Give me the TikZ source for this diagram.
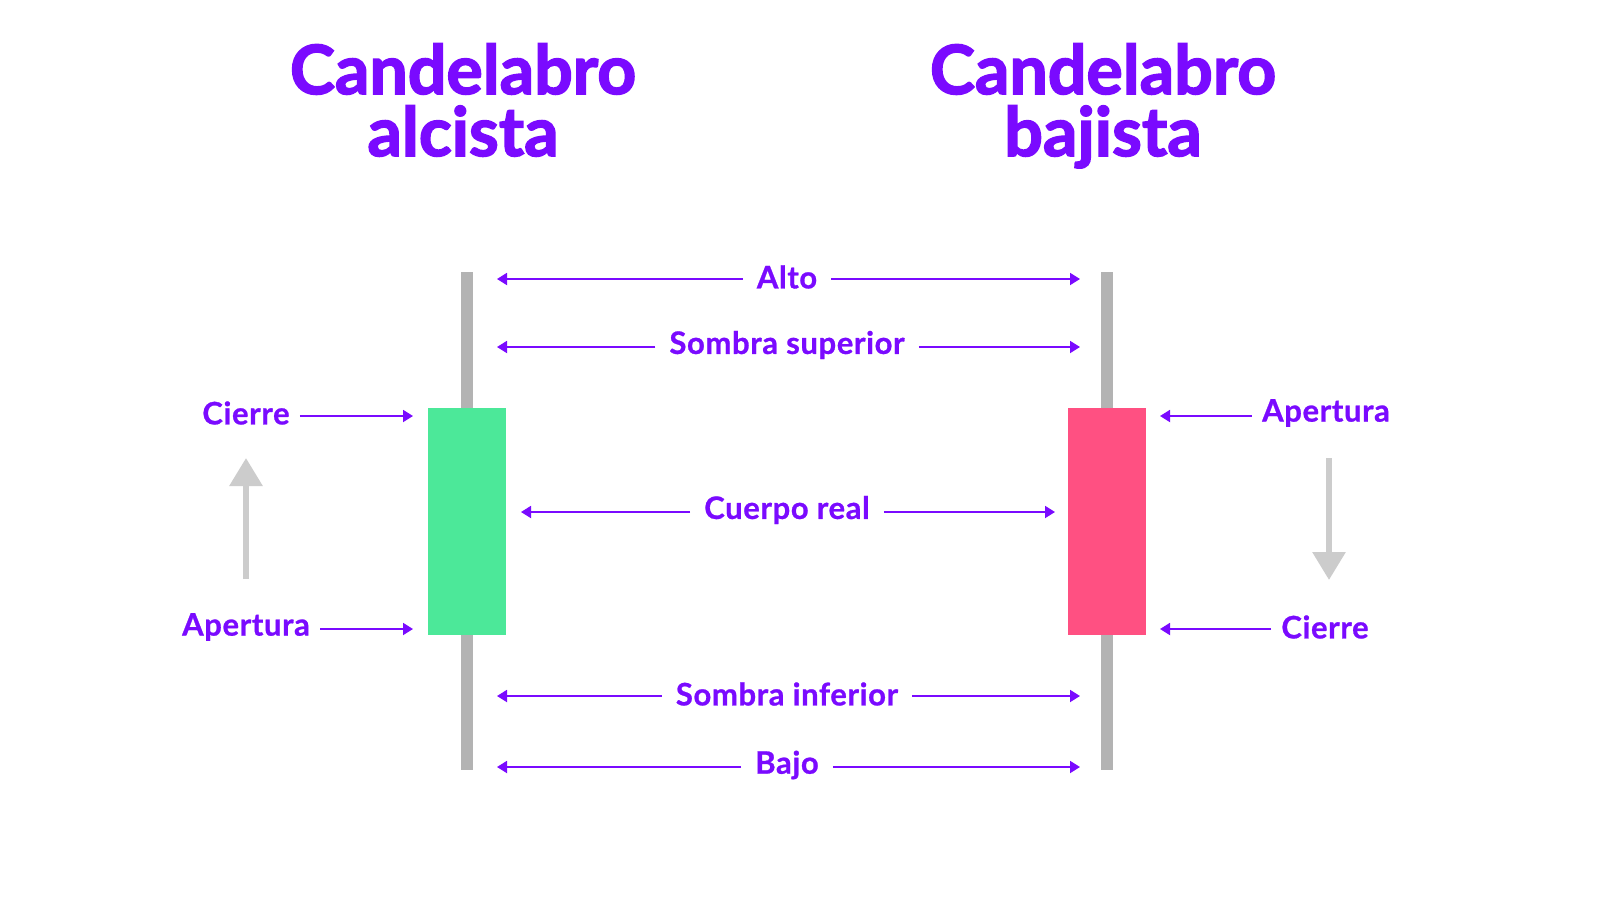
\documentclass[tikz,border=0pt]{standalone}
\usepackage{fontspec}
\setmainfont{Lato}
\newfontfamily\heavy[FakeBold=2.2]{Lato Bold}
\newfontfamily\medheavy[FakeBold=0.8,LetterSpace=2]{Lato Bold}
\usetikzlibrary{arrows.meta}
\definecolor{pur}{HTML}{7A0AFF}
\definecolor{wick}{HTML}{B3B3B3}
\definecolor{grn}{HTML}{4CE899}
\definecolor{rd}{HTML}{FF5082}
\definecolor{lg}{HTML}{CCCCCC}
\begin{document}
\begin{tikzpicture}[x=1pt,y=-1pt,
 ttl/.style={text=pur,font=\heavy\fontsize{68}{62}\selectfont,align=center,anchor=base},
 lbl/.style={text=pur,font=\medheavy\fontsize{31}{34}\selectfont,inner xsep=14pt,inner ysep=0pt},
 parr/.style={draw=pur,line width=1.8pt,-{Triangle[length=10pt,width=12pt]}},
 garr/.style={draw=lg,line width=6pt,-{Triangle[length=28pt,width=32pt]}}]
\useasboundingbox (0,0) rectangle (1600,900);
\fill[white] (0,0) rectangle (1600,900);
\node[ttl] (t1) at (463,156) {Candelabro\\alcista};
\node[ttl] (t2) at (1103,156) {Candelabro\\bajista};
% candles
\fill[wick] (461,272) rectangle (473,770);
\fill[grn] (428,408) rectangle (506,635);
\fill[wick] (1101,272) rectangle (1113,770);
\fill[rd] (1068,408) rectangle (1146,635);
% double arrows
\foreach \n/\t/\y/\a/\b in {alto/Alto/277/497/1080, ss/Sombra superior/345/497/1080, cr/Cuerpo real/510/521/1055, si/Sombra inferior/694/497/1080, bajo/Bajo/765/497/1080}{
 \node[lbl] (\n) at (787,\y) {\t};
 \coordinate (\n l) at (\a,\y+2);
 \coordinate (\n r) at (\b,\y+2);
 \draw[parr] (\n.west|-\n l) -- (\n l);
 \draw[parr] (\n.east|-\n r) -- (\n r);
}
% side labels
\node[lbl,inner xsep=10pt] (c1) at (246,413) {Cierre};
\coordinate (c1e) at (413,416);
\draw[parr] (c1.east|-c1e) -- (c1e);
\node[lbl,inner xsep=10pt] (a1) at (246,627) {Apertura};
\coordinate (a1e) at (413,629);
\draw[parr] (a1.east|-a1e) -- (a1e);
\node[lbl,inner xsep=10pt] (a2) at (1326,413) {Apertura};
\coordinate (a2e) at (1160,416);
\draw[parr] (a2.west|-a2e) -- (a2e);
\node[lbl,inner xsep=10pt] (c2) at (1325,627) {Cierre};
\coordinate (c2e) at (1160,629);
\draw[parr] (c2.west|-c2e) -- (c2e);
% gray trend arrows
\coordinate (u0) at (246,579); \coordinate (u1) at (246,458);
\draw[garr] (u0) -- (u1);
\coordinate (d0) at (1329,458); \coordinate (d1) at (1329,580);
\draw[garr] (d0) -- (d1);
\end{tikzpicture}
\end{document}
